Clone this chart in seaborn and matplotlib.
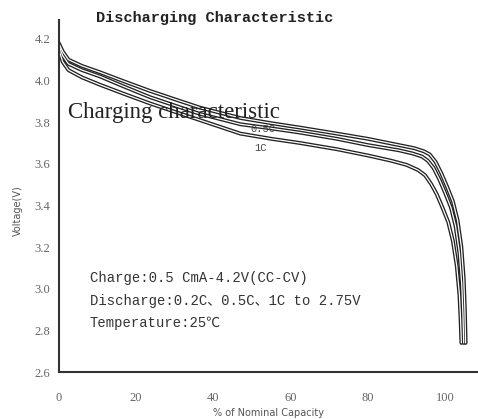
import numpy as np
import pandas as pd
import matplotlib
matplotlib.use("Agg")
import matplotlib.pyplot as plt
import seaborn as sns

# DATA

cap_02c = [0, 1, 2.5, 6, 10.6, 17, 23.6, 30, 36.5, 47, 55, 62.4, 72, 80, 88, 92, 94.5, 96,
           97.5, 99, 100.5, 102, 103.2, 104.2, 104.8, 105.1, 105.3]
volt_02c = [4.18, 4.14, 4.10, 4.07, 4.04, 3.995, 3.95, 3.91, 3.87, 3.82, 3.795, 3.774, 3.745,
            3.72, 3.69, 3.675, 3.66, 3.645, 3.61, 3.555, 3.49, 3.42, 3.33, 3.2, 3.05, 2.9, 2.74]

cap_05c = [0, 1, 2.5, 6, 10.6, 17, 23.6, 30, 36.5, 47, 55, 62.4, 72, 80, 88, 91.5, 94, 95.5,
           97, 98.5, 100, 101.5, 102.7, 103.7, 104.3, 104.6, 104.8]
volt_05c = [4.17, 4.12, 4.08, 4.05, 4.02, 3.97, 3.92, 3.88, 3.84, 3.79, 3.77, 3.75, 3.72,
            3.69, 3.665, 3.65, 3.635, 3.615, 3.58, 3.525, 3.46, 3.39, 3.30, 3.17, 3.02, 2.88, 2.74]

cap_1c = [0, 1, 2.5, 6, 10.6, 17, 23.6, 30, 36.5, 47, 55, 62.4, 72, 80, 86, 90, 93, 94.8,
          96.3, 97.8, 99.3, 100.8, 102.0, 103.0, 103.7, 104.0, 104.2]
volt_1c = [4.15, 4.09, 4.05, 4.015, 3.98, 3.935, 3.89, 3.85, 3.81, 3.745, 3.72, 3.70, 3.67,
           3.64, 3.615, 3.595, 3.57, 3.545, 3.505, 3.455, 3.39, 3.32, 3.23, 3.11, 2.97, 2.85, 2.74]

rates = ["0.2C", "0.5C", "1C"]

x_ticks = [0, 20, 40, 60, 80, 100]
y_ticks = [2.6, 2.8, 3.0, 3.2, 3.4, 3.6, 3.8, 4.0, 4.2]

df = pd.concat([
    pd.DataFrame({"capacity": cap_02c, "voltage": volt_02c, "rate": rates[0]}),
    pd.DataFrame({"capacity": cap_05c, "voltage": volt_05c, "rate": rates[1]}),
    pd.DataFrame({"capacity": cap_1c, "voltage": volt_1c, "rate": rates[2]}),
])

# PLOT

sns.set_style("white")

fig = plt.figure(figsize=(4.78, 4.19), dpi=100)
ax = fig.add_axes([0.123, 0.112, 0.877, 0.84])

# hollow "tube" look: thick dark line, thin white line on top
sns.lineplot(data=df, x="capacity", y="voltage", units="rate", estimator=None,
             sort=False, color="#222222", linewidth=2.8, ax=ax, legend=False)
sns.lineplot(data=df, x="capacity", y="voltage", units="rate", estimator=None,
             sort=False, color="white", linewidth=0.9, ax=ax, legend=False)

ax.set_xlim(0, 108.5)
ax.set_ylim(2.6, 4.29)
ax.set_xticks(x_ticks)
ax.set_xticks(np.arange(10, 110, 20), minor=True)
ax.set_yticks(y_ticks)
ax.set_yticks(np.arange(2.7, 4.25, 0.2), minor=True)
ax.set_xticklabels([str(t) for t in x_ticks], fontsize=9, color="#666666",
                   family="Liberation Serif")
ax.set_yticklabels([f"{t:.1f}" for t in y_ticks], fontsize=9, color="#666666",
                   family="Liberation Serif")
ax.tick_params(direction="in", length=4, width=1.2, color="#333333", which="major")
ax.tick_params(direction="in", length=3, width=1, color="#333333", which="minor")
ax.tick_params(axis="x", pad=14)
ax.tick_params(axis="y", pad=6)

for side in ["top", "right"]:
    ax.spines[side].set_visible(False)
for side in ["left", "bottom"]:
    ax.spines[side].set_color("#333333")
    ax.spines[side].set_linewidth(1.5)

ax.set_xlabel("% of Nominal Capacity", fontsize=7, color="#555555", labelpad=3)
ax.set_ylabel("Voltage(V)", fontsize=7, color="#555555")
ax.yaxis.set_label_coords(-0.085, 0.46)

# TEXTS

fig.text(0.2, 0.958, "Discharging Characteristic", fontsize=11, weight="bold",
         family="Liberation Mono", color="#222222", va="center")
ax.text(2.3, 3.845, "Charging characteristic", fontsize=16.5,
        family="Liberation Serif", color="#222222", va="center")
ax.text(49.5, 3.765, "0.5C", fontsize=7.5, family="Liberation Mono",
        color="#444444", va="center")
ax.text(50.5, 3.675, "1C", fontsize=7.5, family="Liberation Mono",
        color="#444444", va="center")

mono_cjk = ["Liberation Mono", "Noto Sans CJK SC"]
ax.text(8, 3.05, "Charge:0.5 CmA-4.2V(CC-CV)", fontsize=10,
        family=mono_cjk, color="#333333", va="center")
ax.text(8, 2.94, "Discharge:0.2C、0.5C、1C to 2.75V", fontsize=10,
        family=mono_cjk, color="#333333", va="center")
ax.text(8, 2.835, "Temperature:25℃", fontsize=10,
        family=mono_cjk, color="#333333", va="center")

plt.savefig("out.png", dpi=100)
